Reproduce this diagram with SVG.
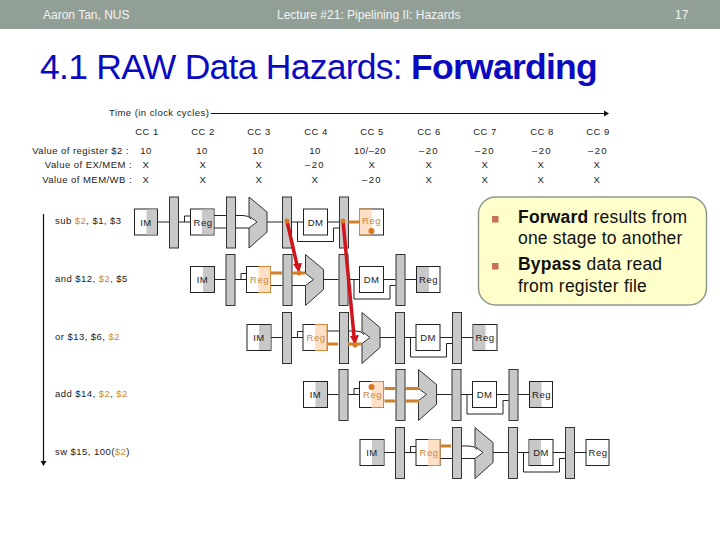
<svg xmlns="http://www.w3.org/2000/svg" xmlns:xlink="http://www.w3.org/1999/xlink" width="720" height="540" viewBox="0 0 720 540">
<style>
text{font-family:"Liberation Sans",Arial,sans-serif;fill:#1a1a1a}
.hd{font-size:12px;fill:#f2f4f0}
.t{font-size:9.5px;letter-spacing:.45px}
.n{letter-spacing:1.4px}
.c{text-anchor:middle}
.r{text-anchor:end}
.b{fill:#fff;stroke:#222;stroke-width:1}
.s{fill:#c8c8c8}
.p{fill:#fde0c6}
.l{fill:#c8c8c8;stroke:#333;stroke-width:1}
.w{fill:none;stroke:#222;stroke-width:1}
.ax{fill:none;stroke:#111;stroke-width:1.200}
.ob{fill:none;stroke:#d98a3a;stroke-width:1}
.o{fill:none;stroke:#d0802c;stroke-width:3}
.ot{fill:#c98a40}
.d{fill:#d9781f}
.a{stroke:#d0141c;stroke-width:3.500;fill:none}
.ah{fill:#d0141c}
.cal{font-size:17.500px;letter-spacing:.2px;fill:#111}
</style>
<defs>
<g id="latch"><rect class="l" x="0.5" y="-25" width="9" height="51"/></g>
<g id="alu"><path class="s" stroke="#333" d="M0-25 18-10V10L0 26V6L8 0 0-6Z"/></g>
</defs>
<rect x="0" y="0" width="720" height="29" fill="#929f96"/>
<text class="hd" x="43" y="19">Aaron Tan, NUS</text>
<text class="hd" x="277" y="19">Lecture #21: Pipelining II: Hazards</text>
<text class="hd" x="675" y="19">17</text>
<text x="40" y="79" font-size="35.5" style="fill:#0a0ac0;letter-spacing:-.74px">4.1 RAW Data Hazards: <tspan font-weight="bold">Forwarding</tspan></text>

<g id="axis">
<text class="t" x="109" y="116">Time (in clock cycles)</text>
<path class="ax" d="M211 113.500H604"/><path d="M604 110.500 609 113.500 604 116.500Z" fill="#111"/>
<path class="ax" d="M43.500 214V462"/><path d="M40.500 461 46.500 461 43.500 466Z" fill="#111"/>
</g>
<g id="table">
<text class="t r" x="129" y="154">Value of register $2 :</text>
<text class="t r" x="132" y="168">Value of EX/MEM :</text>
<text class="t r" x="132" y="183">Value of MEM/WB :</text>
<g id="cc1"><text class="t c" x="147" y="135">CC 1</text><text class="t c" x="146" y="154">10</text><text class="t c" x="146" y="168">X</text><text class="t c" x="146" y="183">X</text></g>
<g id="cc2"><text class="t c" x="203" y="135">CC 2</text><text class="t c" x="202" y="154">10</text><text class="t c" x="203" y="168">X</text><text class="t c" x="203" y="183">X</text></g>
<g id="cc3"><text class="t c" x="259" y="135">CC 3</text><text class="t c" x="258" y="154">10</text><text class="t c" x="259" y="168">X</text><text class="t c" x="259" y="183">X</text></g>
<g id="cc4"><text class="t c" x="316" y="135">CC 4</text><text class="t c" x="315" y="154">10</text><text class="t c n" x="315" y="168">–20</text><text class="t c" x="315" y="183">X</text></g>
<g id="cc5"><text class="t c" x="372" y="135">CC 5</text><text class="t c" x="370" y="154">10/–20</text><text class="t c" x="372" y="168">X</text><text class="t c n" x="372" y="183">–20</text></g>
<g id="cc6"><text class="t c" x="429" y="135">CC 6</text><text class="t c n" x="429" y="154">–20</text><text class="t c" x="429" y="168">X</text><text class="t c" x="429" y="183">X</text></g>
<g id="cc7"><text class="t c" x="485" y="135">CC 7</text><text class="t c n" x="485" y="154">–20</text><text class="t c" x="485" y="168">X</text><text class="t c" x="485" y="183">X</text></g>
<g id="cc8"><text class="t c" x="542" y="135">CC 8</text><text class="t c n" x="542" y="154">–20</text><text class="t c" x="541" y="168">X</text><text class="t c" x="541" y="183">X</text></g>
<g id="cc9"><text class="t c" x="598" y="135">CC 9</text><text class="t c n" x="598" y="154">–20</text><text class="t c" x="597" y="168">X</text><text class="t c" x="597" y="183">X</text></g>
</g>

<g id="instructions">
<text class="t" x="55" y="224">sub <tspan class="ot">$2</tspan>, $1, $3</text>
<text class="t" x="55" y="282">and $12, <tspan class="ot">$2</tspan>, $5</text>
<text class="t" x="55" y="340">or $13, $6, <tspan class="ot">$2</tspan></text>
<text class="t" x="55" y="397">add $14, <tspan class="ot">$2</tspan>, <tspan class="ot">$2</tspan></text>
<text class="t" x="55" y="455">sw $15, 100(<tspan class="ot">$2</tspan>)</text>
</g>

<g id="connectors">
<g transform="translate(0,222)">
<path class="w" d="M157.500 0H169M178.500 0H190M184.500 0V-6H190M214 -6.500H226M214 6H226M235.500 -6.500H243Q249-6.500 251-3M235.500 6H249M267 0H282M291 0H303M327 0H339M297.500 0V19.500H333.500V6H339"/>
</g>
<g transform="translate(56.500,279.500)">
<path class="w" d="M157.500 0H169M178.500 0H190M184.500 0V-6H190M214 6H226M235.500 6H249M267 0H282M291 0H303M327 0H339M348 0H360M297.500 0V19.500H333.500V6H339"/>
</g>
<g transform="translate(113,337.500)">
<path class="w" d="M157.500 0H169M178.500 0H190M184.500 0V-6H190M214 -6.500H226M235.500 -6.500H243Q249-6.500 251-3M267 0H282M291 0H303M327 0H339M348 0H360M297.500 0V19.500H333.500V6H339"/>
</g>
<g transform="translate(169.500,394.500)">
<path class="w" d="M157.500 0H169M178.500 0H190M184.500 0V-6H190M267 0H282M291 0H303M327 0H339M348 0H360M297.500 0V19.500H333.500V6H339"/>
</g>
<g transform="translate(226,452.500)">
<path class="w" d="M157.500 0H169M178.500 0H190M184.500 0V-6H190M214 6H226M235.500 -6.500H243Q249-6.500 251-3M235.500 6H249M267 0H282M291 0H303M327 0H339M348 0H360M297.500 0V19.500H333.500V6H339"/>
</g>
</g>

<g id="row1" transform="translate(0,222)">
<g id="r1-im"><rect class="b" x="134.500" y="-13" width="23" height="26"/><rect class="s" x="146.500" y="-12.500" width="10.500" height="25"/><text class="t c" x="146" y="3.500">IM</text></g>
<use xlink:href="#latch" x="169"/>
<g id="r1-reg"><rect class="b" x="190.500" y="-13" width="23.500" height="26"/><rect class="s" x="202" y="-12.500" width="11.500" height="25"/><text class="t c" x="203" y="3.500">Reg</text></g>
<use xlink:href="#latch" x="226"/>
<use xlink:href="#alu" x="249"/>
<use xlink:href="#latch" x="282"/>
<g id="r1-dm"><rect class="b" x="303.500" y="-13" width="24" height="26"/><text class="t c" x="315.500" y="3.500">DM</text></g>
<use xlink:href="#latch" x="339"/>
<g id="r1-wb"><rect class="b" x="359.500" y="-13" width="24" height="26"/><rect class="p" x="360" y="-12.500" width="12" height="25"/><path class="ob" d="M372-13H359.500V13H372"/><text class="t c ot" x="371.500" y="2">Reg</text></g>
</g>
<g id="row2" transform="translate(56.500,279.500)">
<g id="r2-im"><rect class="b" x="134" y="-13" width="24" height="26"/><rect class="s" x="146.500" y="-12.500" width="11" height="25"/><text class="t c" x="146" y="3.500">IM</text></g>
<use xlink:href="#latch" x="169"/>
<g id="r2-reg"><rect class="b" x="190" y="-13" width="24" height="26"/><rect class="p" x="202" y="-12.500" width="12" height="25"/><path class="ob" d="M202-13H214V13H202"/><text class="t c ot" x="203" y="3.500">Reg</text></g>
<use xlink:href="#latch" x="226"/>
<use xlink:href="#alu" x="249"/>
<use xlink:href="#latch" x="282"/>
<g id="r2-dm"><rect class="b" x="303" y="-13" width="24" height="26"/><text class="t c" x="315" y="3.500">DM</text></g>
<use xlink:href="#latch" x="339"/>
<g id="r2-wb"><rect class="b" x="360" y="-13" width="23.500" height="26"/><rect class="s" x="360.500" y="-12.500" width="12" height="25"/><text class="t c" x="372" y="3.500">Reg</text></g>
</g>
<g id="row3" transform="translate(113,337.500)">
<g id="r3-im"><rect class="b" x="134" y="-13" width="24" height="26"/><rect class="s" x="146" y="-12.500" width="11.500" height="25"/><text class="t c" x="146" y="3.500">IM</text></g>
<use xlink:href="#latch" x="169"/>
<g id="r3-reg"><rect class="b" x="190" y="-13" width="24" height="26"/><rect class="p" x="202" y="-12.500" width="12" height="25"/><path class="ob" d="M202-13H214V13H202"/><text class="t c ot" x="203" y="3.500">Reg</text></g>
<use xlink:href="#latch" x="226"/>
<use xlink:href="#alu" x="249"/>
<use xlink:href="#latch" x="282"/>
<g id="r3-dm"><rect class="b" x="303" y="-13" width="24" height="26"/><text class="t c" x="315" y="3.500">DM</text></g>
<use xlink:href="#latch" x="339"/>
<g id="r3-wb"><rect class="b" x="360" y="-13" width="24" height="26"/><rect class="s" x="360.500" y="-12.500" width="12" height="25"/><text class="t c" x="372" y="3.500">Reg</text></g>
</g>
<g id="row4" transform="translate(169.500,394.500)">
<g id="r4-im"><rect class="b" x="134" y="-13" width="24" height="26"/><rect class="s" x="146" y="-12.500" width="11.500" height="25"/><text class="t c" x="146" y="3.500">IM</text></g>
<use xlink:href="#latch" x="169"/>
<g id="r4-reg"><rect class="b" x="190" y="-13" width="24" height="26"/><rect class="p" x="202" y="-12.500" width="12" height="25"/><path class="ob" d="M202-13H214V13H202"/><text class="t c ot" x="203" y="3.500">Reg</text></g>
<use xlink:href="#latch" x="226"/>
<use xlink:href="#alu" x="249"/>
<use xlink:href="#latch" x="282"/>
<g id="r4-dm"><rect class="b" x="303" y="-13" width="24" height="26"/><text class="t c" x="315" y="3.500">DM</text></g>
<use xlink:href="#latch" x="339"/>
<g id="r4-wb"><rect class="b" x="360" y="-13" width="23" height="26"/><rect class="s" x="360.500" y="-12.500" width="11.500" height="25"/><text class="t c" x="372" y="3.500">Reg</text></g>
</g>
<g id="row5" transform="translate(226,452.500)">
<g id="r5-im"><rect class="b" x="134" y="-13" width="24" height="26"/><rect class="s" x="146" y="-12.500" width="11.500" height="25"/><text class="t c" x="146" y="3.500">IM</text></g>
<use xlink:href="#latch" x="169"/>
<g id="r5-reg"><rect class="b" x="190" y="-13" width="24" height="26"/><rect class="p" x="202" y="-12.500" width="12" height="25"/><path class="ob" d="M202-13H214V13H202"/><text class="t c ot" x="203" y="3.500">Reg</text></g>
<use xlink:href="#latch" x="226"/>
<use xlink:href="#alu" x="249"/>
<use xlink:href="#latch" x="282"/>
<g id="r5-dm"><rect class="b" x="303" y="-13" width="24" height="26"/><rect class="s" x="303.500" y="-12.500" width="11.500" height="25"/><text class="t c" x="315" y="3.500">DM</text></g>
<use xlink:href="#latch" x="339"/>
<g id="r5-wb"><rect class="b" x="360" y="-13" width="23" height="26"/><text class="t c" x="372" y="3.500">Reg</text></g>
</g>

<g id="forwarding">
<path class="o" d="M348.500 222H360"/><circle class="d" cx="371.500" cy="231" r="3"/>
<path class="o" d="M271 273H282M292 273H305"/>
<path class="o" d="M328 344H338M348 344H362"/>
<path class="o" d="M384.500 388.500H395M405 388.500H419M384.500 401H395M405 401H419"/>
<path class="o" d="M440.500 446H451"/>
<circle class="d" cx="371.500" cy="387" r="3"/>
<path class="a" d="M287 221 297 265"/><path class="ah" d="M293 264 302 263 299 273Z"/>
<path class="a" d="M343 221 354 336"/><path class="ah" d="M350 336 359 335 355 345Z"/>
<circle class="d" cx="287" cy="221" r="2.500"/><circle class="d" cx="343" cy="221" r="2.500"/>
<circle class="d" cx="299" cy="273" r="2.500"/><circle class="d" cx="355" cy="345" r="2.500"/>
</g>

<g id="callout">
<rect x="478.500" y="197" width="228" height="108" rx="17" fill="#ffffcc" stroke="#8e9a8c" stroke-width="1.500"/>
<rect x="492" y="216" width="6.500" height="6.500" fill="#c8705a"/>
<rect x="492" y="263" width="6.500" height="6.500" fill="#c8705a"/>
<text class="cal" x="518" y="223"><tspan font-weight="bold">Forward</tspan> results from</text>
<text class="cal" x="518" y="244">one stage to another</text>
<text class="cal" x="518" y="270"><tspan font-weight="bold">Bypass</tspan> data read</text>
<text class="cal" x="518" y="292">from register file</text>
</g>
</svg>
